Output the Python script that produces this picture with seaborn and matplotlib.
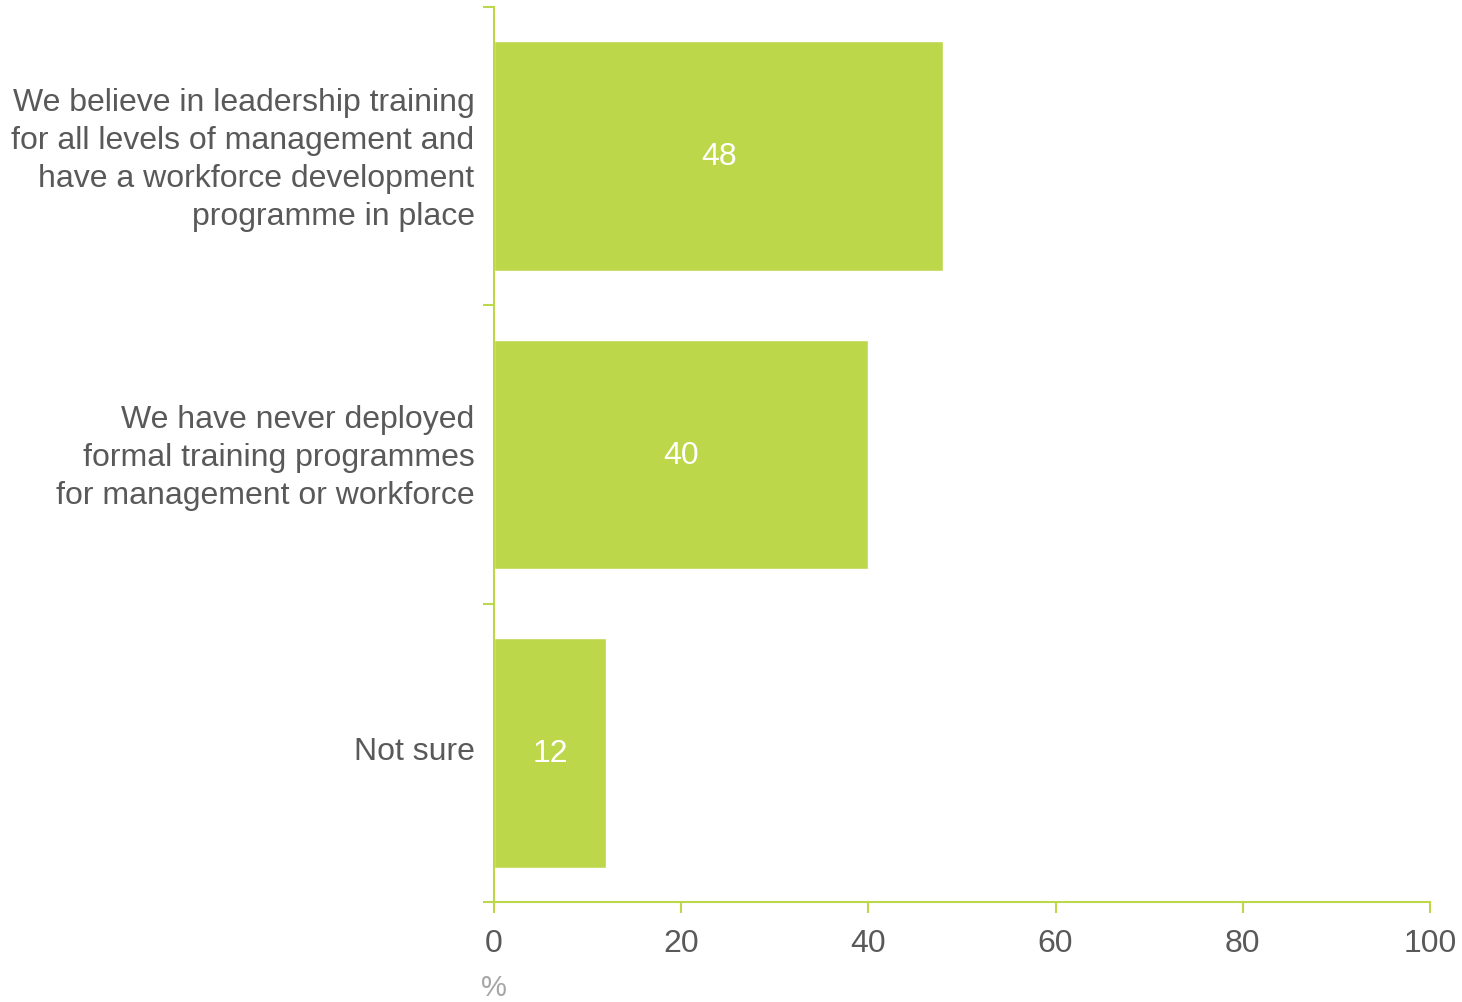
import pandas as pd
import matplotlib
matplotlib.use("Agg")
import matplotlib.pyplot as plt
import matplotlib.transforms as mtransforms
import seaborn as sns

# Datos
categorias = [
    "We believe in leadership training\nfor all levels of management and\nhave a workforce development\nprogramme in place",
    "We have never deployed\nformal training programmes\nfor management or workforce",
    "Not sure",
]
valores = [48, 40, 12]
ticks_x = [0, 20, 40, 60, 80, 100]

verde = "#BDD74B"
gris = "#595959"

df = pd.DataFrame({"categoria": categorias, "valor": valores})

sns.set_style("white")
plt.rcParams["font.family"] = ["Liberation Sans", "DejaVu Sans"]

fig = plt.figure(figsize=(14.62, 10.03), dpi=100)
ax = fig.add_axes([494 / 1462, 1 - 903 / 1003, (1430 - 494) / 1462, (903 - 8) / 1003])

sns.barplot(data=df, x="valor", y="categoria", color=verde, saturation=1,
            width=0.77, ax=ax)

# Etiquetas de valor dentro de las barras
for i, v in enumerate(valores):
    ax.text(v / 2, i, str(v), color="white", fontsize=23, ha="center", va="center")

ax.set_xlim(0, 100)
ax.set_ylim(2.5, -0.5)
ax.set_xticks(ticks_x)
ax.set_xticklabels([str(t) for t in ticks_x])
ax.set_xlabel("")
ax.set_ylabel("")

# Ticks del eje y en los limites de categoria
ax.set_yticks([-0.5, 0.5, 1.5, 2.5])
ax.set_yticklabels([])
ax.set_yticks(range(len(categorias)), minor=True)
ax.set_yticklabels(categorias, minor=True, linespacing=1.35)
ax.tick_params(axis="y", which="minor", length=0, pad=14, labelsize=23, labelcolor=gris)
ax.tick_params(axis="y", which="major", length=8, width=1.5, color=verde, direction="out", left=True)
ax.tick_params(axis="x", length=8, width=1.5, color=verde, direction="out", bottom=True,
               labelsize=23, labelcolor=gris, pad=11)

# subir un poco las etiquetas
desplazamiento = mtransforms.ScaledTranslation(0, 5 / 100, fig.dpi_scale_trans)
for lbl in ax.get_yticklabels(minor=True):
    lbl.set_transform(lbl.get_transform() + desplazamiento)

for s in ["top", "right"]:
    ax.spines[s].set_visible(False)
for s in ["left", "bottom"]:
    ax.spines[s].set_color(verde)
    ax.spines[s].set_linewidth(1.5)

ax.text(0, 1 - 988 / 1003, "%", transform=mtransforms.blended_transform_factory(ax.transData, fig.transFigure),
        ha="center", va="center", fontsize=21, color="#A6A6A6")

fig.savefig("out.png", dpi=100)
